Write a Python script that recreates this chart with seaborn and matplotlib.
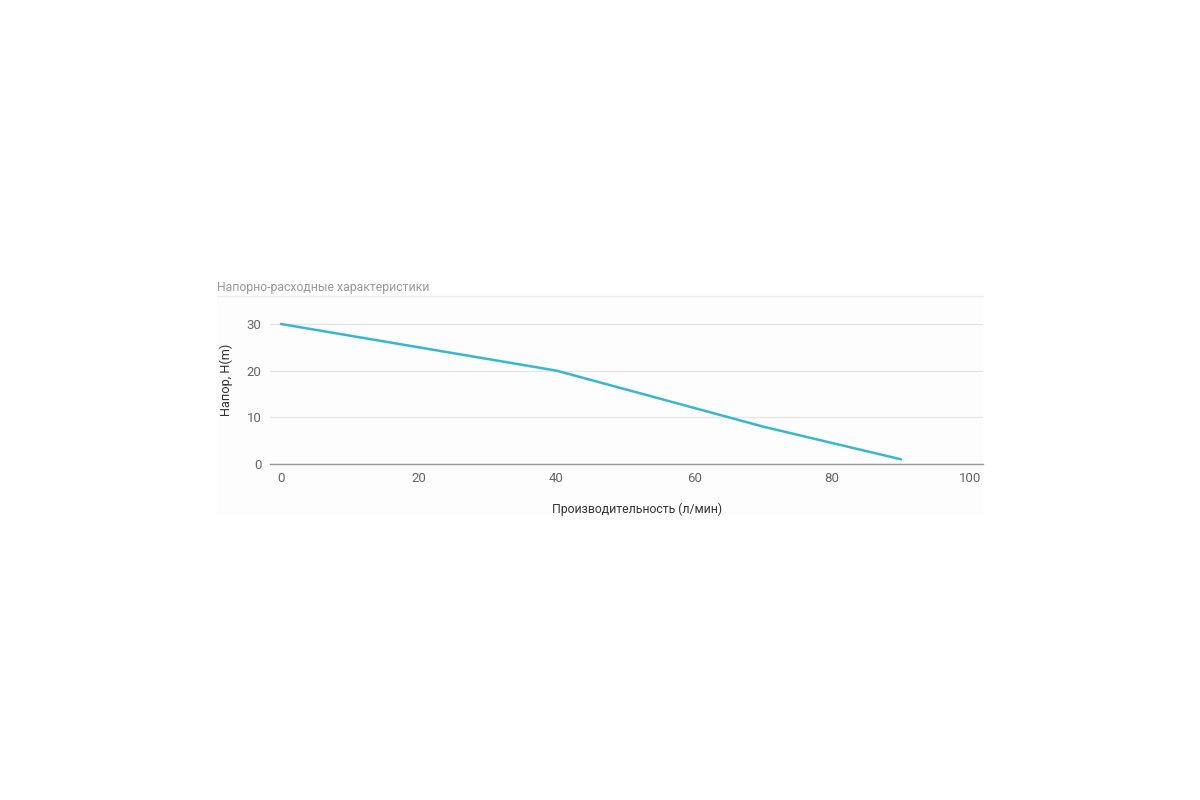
import matplotlib
matplotlib.use('Agg')
import matplotlib.pyplot as plt
from matplotlib.lines import Line2D
from matplotlib.patches import Rectangle
import seaborn as sns
import pandas as pd

# pump curve
flow = [0, 40, 70, 90]
head = [30, 20, 8, 1]
x_ticks = [0, 20, 40, 60, 80, 100]
y_ticks = [0, 10, 20, 30]

title = 'Напорно-расходные характеристики'
xlabel = 'Производительность (л/мин)'
ylabel = 'Напор, H(m)'

sns.set_theme(style='white')
plt.rcParams['font.family'] = ['Roboto', 'DejaVu Sans']

df = pd.DataFrame({'flow': flow, 'head': head})

fig = plt.figure(figsize=(12, 8), dpi=100)
fig.patch.set_facecolor('white')

# faint panel behind the chart
fig.add_artist(Rectangle((217 / 1200, 1 - 515 / 800), 766 / 1200, 219 / 800,
                         transform=fig.transFigure, facecolor='#fdfdfd',
                         edgecolor='none', zorder=0))
# thin separator under the title
fig.add_artist(Line2D([217 / 1200, 983 / 1200], [1 - 296 / 800, 1 - 296 / 800],
                      transform=fig.transFigure, color='#ededed', lw=1))

ax = fig.add_axes([270 / 1200, 1 - 464 / 800, 713 / 1200, 168 / 800])
ax.set_facecolor('none')

sns.lineplot(data=df, x='flow', y='head', ax=ax, color='#38b7d2', linewidth=1.8)

ax.set_xlim(-1.6, 101.9)
ax.set_ylim(0, 36)
ax.set_xticks(x_ticks)
ax.set_yticks(y_ticks)
ax.grid(axis='y', color='#e6e6e6', linewidth=1)
ax.grid(axis='x', visible=False)
for s in ['top', 'right', 'left']:
    ax.spines[s].set_visible(False)
ax.spines['bottom'].set_color('#999999')
ax.spines['bottom'].set_linewidth(1)
ax.tick_params(axis='both', length=0, labelsize=9.5, colors='#666666')
ax.tick_params(axis='x', pad=6)
ax.tick_params(axis='y', pad=6)

ax.set_xlabel(xlabel, fontsize=8.8, color='#333333')
ax.xaxis.set_label_coords((637 - 270) / 713, -(509 - 464) / 168)
ax.xaxis.label.set_va('center')
ax.set_ylabel(ylabel, fontsize=9.2, color='#333333', labelpad=10)

fig.text(217 / 1200, 1 - 287 / 800, title, fontsize=8.8, color='#9a9a9a',
         ha='left', va='center')

fig.savefig('out.png', dpi=100)
